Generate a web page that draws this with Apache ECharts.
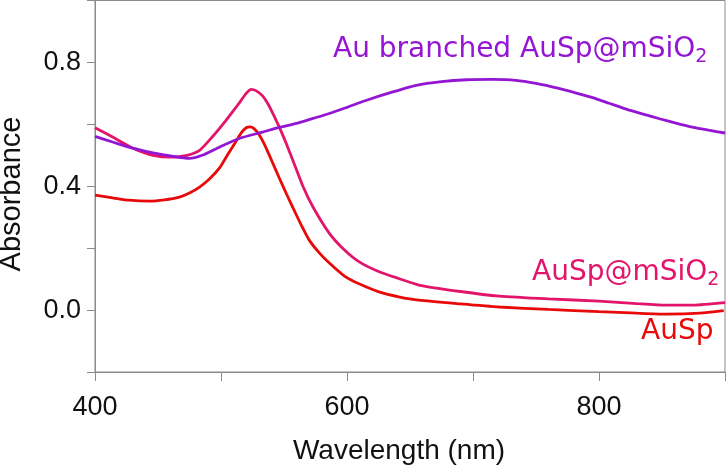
<!DOCTYPE html>
<html>
<head>
<meta charset="utf-8">
<script src="https://cdn.jsdelivr.net/npm/echarts@6/dist/echarts.min.js"></script>
<style>
html,body{margin:0;padding:0;background:#fff;}
#chart{width:728px;height:468px;}
</style>
</head>
<body>
<div id="chart"></div>
<script>
// ---- data ----
var auspNm   = [400, 415, 427, 443, 455, 467, 475, 483, 491, 499, 505, 511, 516, 520, 523, 526, 530, 534, 540, 546, 552, 558, 564, 570, 578, 586, 598, 610, 626, 641, 657, 690, 721, 760, 800, 830, 853, 880, 899];
var auspAbs  = [0.371, 0.362, 0.355, 0.352, 0.356, 0.365, 0.378, 0.397, 0.424, 0.460, 0.500, 0.539, 0.572, 0.589, 0.592, 0.587, 0.568, 0.539, 0.485, 0.429, 0.375, 0.323, 0.272, 0.226, 0.185, 0.152, 0.110, 0.084, 0.058, 0.043, 0.032, 0.020, 0.010, 0.002, -0.005, -0.010, -0.013, -0.010, -0.002];

var silicaNm  = [400, 414, 430, 446, 461, 473, 483, 493, 504, 510, 515, 520, 524, 528, 533, 538, 542, 548, 552, 557, 565, 573, 586, 598, 610, 626, 641, 657, 690, 721, 760, 800, 830, 853, 875, 900];
var silicaAbs = [0.589, 0.559, 0.523, 0.500, 0.494, 0.500, 0.516, 0.559, 0.613, 0.645, 0.672, 0.700, 0.713, 0.708, 0.692, 0.661, 0.628, 0.575, 0.536, 0.484, 0.400, 0.333, 0.248, 0.194, 0.155, 0.123, 0.102, 0.081, 0.060, 0.045, 0.036, 0.029, 0.021, 0.016, 0.016, 0.024];

var branchedNm  = [400, 414, 430, 446, 461, 475, 485, 499, 515, 533, 546, 560, 573, 586, 600, 615, 635, 655, 675, 695, 715, 734, 750, 768, 782, 795, 808, 821, 835, 848, 861, 874, 887, 900];
var branchedAbs = [0.561, 0.543, 0.523, 0.508, 0.497, 0.490, 0.500, 0.527, 0.555, 0.575, 0.590, 0.603, 0.619, 0.635, 0.655, 0.677, 0.703, 0.726, 0.738, 0.744, 0.745, 0.742, 0.732, 0.716, 0.701, 0.686, 0.668, 0.650, 0.633, 0.618, 0.604, 0.591, 0.581, 0.572];

var xTickLabels = [400, 600, 800];
var yTickLabels = ['0.0', '0.4', '0.8'];
var seriesNames = ['AuSp', 'AuSp@mSiO2', 'Au branched AuSp@mSiO2'];

function zip(xs, ys) { return xs.map(function (x, i) { return [x, ys[i]]; }); }

var RED = '#e80a0a', PINK = '#e3156b', PURPLE = '#9516d2';
var AX = '#8a8a8a';

var chart = echarts.init(document.getElementById('chart'), null, {renderer: 'canvas'});
chart.setOption({
  animation: false,
  backgroundColor: '#ffffff',
  grid: {left: 95, right: 2, top: 0.5, bottom: 96, show: true, borderColor: AX, borderWidth: 1, backgroundColor: 'transparent'},
  xAxis: {
    type: 'value', min: 400, max: 900, interval: 100,
    axisLine: {show: true, onZero: false, lineStyle: {color: AX, width: 1}},
    axisTick: {show: true, length: 9, lineStyle: {color: AX}},
    splitLine: {show: false},
    axisLabel: {
      margin: 22, fontSize: 27, fontFamily: 'Liberation Sans', color: '#111',
      formatter: function (v) { return xTickLabels.indexOf(Math.round(v)) >= 0 ? String(Math.round(v)) : ''; }
    }
  },
  yAxis: {
    type: 'value', min: -0.2, max: 1.0, interval: 0.2,
    axisLine: {show: true, onZero: false, lineStyle: {color: AX, width: 1}},
    axisTick: {show: true, length: 8, lineStyle: {color: AX}},
    splitLine: {show: false},
    axisLabel: {
      margin: 14, fontSize: 27, fontFamily: 'Liberation Sans', color: '#111',
      formatter: function (v) { var s = (Math.round(v * 10) / 10).toFixed(1); if (s === '-0.0') s = '0.0'; return yTickLabels.indexOf(s) >= 0 ? s : ''; }
    }
  },
  graphic: [
    {type: 'text', x: 12, y: 194, rotation: Math.PI / 2,
     style: {text: 'Absorbance', font: '29px "Liberation Sans"', fill: '#111', align: 'center', verticalAlign: 'middle'}},
    {type: 'text', x: 399, y: 451,
     style: {text: 'Wavelength (nm)', font: '28px "Liberation Sans"', fill: '#111', align: 'center', verticalAlign: 'middle'}},
    {type: 'text', x: 333, y: 50, z: 100,
     style: {text: '{a|Au branched AuSp@mSiO}{s|2}', fill: PURPLE, align: 'left', verticalAlign: 'middle',
       rich: {a: {fontSize: 28, fontFamily: 'DejaVu Sans', color: PURPLE, lineHeight: 34, verticalAlign: 'middle'},
              s: {fontSize: 19, fontFamily: 'DejaVu Sans', color: PURPLE, verticalAlign: 'bottom'}}}},
    {type: 'text', x: 532, y: 273, z: 100,
     style: {text: '{a|AuSp@mSiO}{s|2}', fill: PINK, align: 'left', verticalAlign: 'middle',
       rich: {a: {fontSize: 28, fontFamily: 'DejaVu Sans', color: PINK, lineHeight: 34, verticalAlign: 'middle'},
              s: {fontSize: 19, fontFamily: 'DejaVu Sans', color: PINK, verticalAlign: 'bottom'}}}},
    {type: 'text', x: 641, y: 332, z: 100,
     style: {text: 'AuSp', font: '28px "DejaVu Sans"', fill: RED, align: 'left', verticalAlign: 'middle'}}
  ],
  series: [
    {name: seriesNames[0], type: 'line', data: zip(auspNm, auspAbs), smooth: 0.2, showSymbol: false,
     lineStyle: {color: RED, width: 2.8}, z: 3},
    {name: seriesNames[1], type: 'line', data: zip(silicaNm, silicaAbs), smooth: 0.2, showSymbol: false,
     lineStyle: {color: PINK, width: 2.8}, z: 2},
    {name: seriesNames[2], type: 'line', data: zip(branchedNm, branchedAbs), smooth: 0.2, showSymbol: false,
     lineStyle: {color: PURPLE, width: 2.8}, z: 4}
  ]
});
</script>
</body>
</html>
